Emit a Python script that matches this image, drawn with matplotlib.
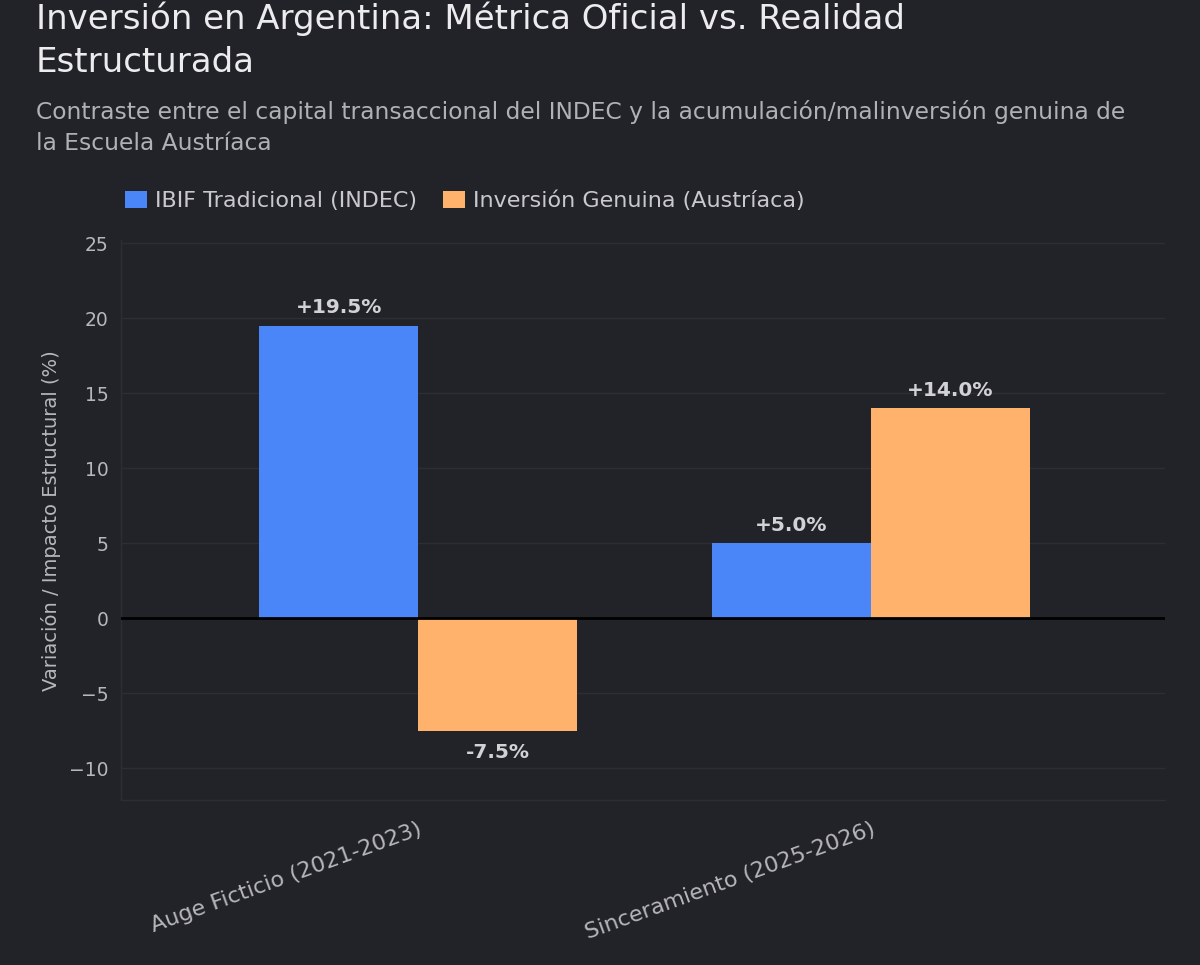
import matplotlib.pyplot as plt
import numpy as np

# data
categories = ['Auge Ficticio (2021-2023)', 'Sinceramiento (2025-2026)']
series_names = ['IBIF Tradicional (INDEC)', 'Inversión Genuina (Austríaca)']
ibif = [19.5, 5.0]
genuina = [-7.5, 14.0]
yticks = [-10, -5, 0, 5, 10, 15, 20, 25]

BG = '#222328'
BLUE = '#4a86f7'
ORANGE = '#ffb26c'
GRID = '#2d2e34'
TICK = '#b7b7bb'

plt.rcParams['font.family'] = ['DejaVu Sans']

fig = plt.figure(figsize=(12, 9.65), dpi=100, facecolor=BG)
ax = fig.add_axes([0.1008, 0.171, 0.87, 0.580])
ax.set_facecolor(BG)

x = np.arange(len(categories))
w = 0.351
b1 = ax.bar(x - w / 2, ibif, w, color=BLUE, label=series_names[0], zorder=3)
b2 = ax.bar(x + w / 2, genuina, w, color=ORANGE, label=series_names[1], zorder=3)

# value labels outside the bars
for bars in (b1, b2):
    for rect in bars:
        v = rect.get_height()
        cx = rect.get_x() + rect.get_width() / 2
        txt = f'{v:+.1f}%'
        if v >= 0:
            ax.annotate(txt, (cx, v), xytext=(0, 9), textcoords='offset points',
                        ha='center', va='baseline', color='#d2d2d6',
                        fontsize=14.5, fontweight='bold')
        else:
            ax.annotate(txt, (cx, v), xytext=(0, -9), textcoords='offset points',
                        ha='center', va='top', color='#d2d2d6',
                        fontsize=14.5, fontweight='bold')

ax.axhline(0, color='black', lw=2, zorder=4)
ax.set_xlim(-0.656, 1.649)
ax.set_ylim(-12.1, 25.2)
ax.set_yticks(yticks)
ax.set_yticklabels([str(t).replace('-', '\u2212') for t in yticks])
ax.grid(axis='y', color=GRID, lw=1, zorder=0)
ax.set_axisbelow(True)
for side in ('top', 'right'):
    ax.spines[side].set_visible(False)
for side in ('left', 'bottom'):
    ax.spines[side].set_color(GRID)
    ax.spines[side].set_linewidth(1)
ax.tick_params(axis='both', length=0, colors=TICK)
ax.tick_params(axis='y', pad=9, labelsize=13.5)
ax.set_xticks(x)
ax.set_xticklabels(categories, rotation=20, ha='right', rotation_mode='anchor',
                   fontsize=16, color=TICK)
ax.tick_params(axis='x', pad=14)

ax.set_ylabel('Variación / Impacto Estructural (%)', color=TICK, fontsize=14)
ax.yaxis.set_label_coords(-0.057, 0.5)

# title and subtitle
fig.text(0.030, 0.998, 'Inversión en Argentina: Métrica Oficial vs. Realidad\nEstructurada',
         color='#ececee', fontsize=24.5, va='top', ha='left', linespacing=1.36)
fig.text(0.030, 0.8968, 'Contraste entre el capital transaccional del INDEC y la acumulación/malinversión genuina de\nla Escuela Austríaca',
         color='#b0b0b5', fontsize=16.8, va='top', ha='left', linespacing=1.48)

leg = fig.legend(handles=[b1, b2], loc='center left', bbox_to_anchor=(125 / 1200, 1 - 201 / 965),
                 ncol=2, frameon=False, fontsize=16, labelcolor='#c9c9cd',
                 handlelength=1.0, handleheight=0.85, handletextpad=0.33,
                 columnspacing=1.2, borderpad=0, borderaxespad=0)

fig.savefig('out.png', dpi=100, facecolor=BG)
